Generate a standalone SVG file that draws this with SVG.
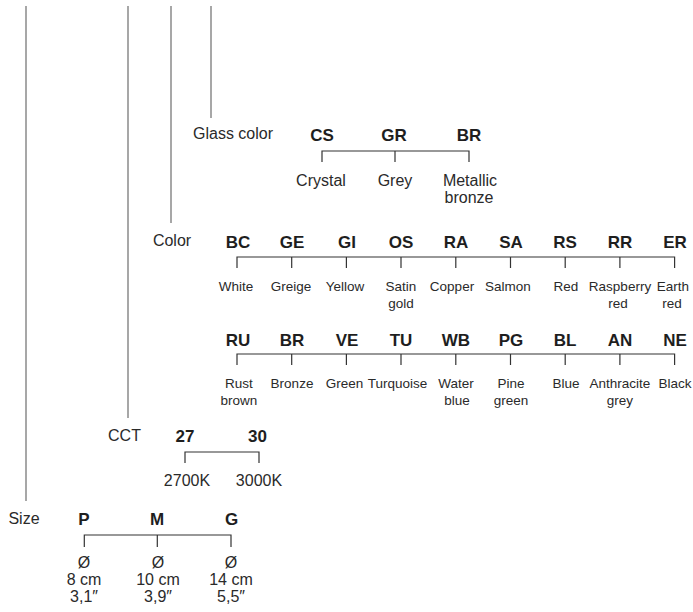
<svg xmlns="http://www.w3.org/2000/svg" width="693" height="612" viewBox="0 0 693 612">
<style>
text{font-family:"Liberation Sans",Arial,sans-serif;fill:#2a2a2a;text-anchor:middle}
.h{font-size:16px}
.c{font-size:17px;font-weight:bold;fill:#1e1e1e}
.l{font-size:16px}
.s{font-size:13.5px}
.lead{stroke:#8a8a8a;stroke-width:1.5;fill:none}
.br{stroke:#333;stroke-width:1.2;fill:none}
</style>
<rect width="693" height="612" fill="#fff"/>
<g id="connectors">
<line class="lead" x1="26" y1="6" x2="26" y2="501"/>
<line class="lead" x1="128" y1="6" x2="128" y2="418"/>
<line class="lead" x1="171" y1="6" x2="171" y2="223"/>
<line class="lead" x1="211" y1="6" x2="211" y2="118"/>
<path class="br" d="M322 162V151H469V162M395 151V162"/>
<path class="br" d="M237 268V257H674.6V268M291.7 257V268M346.4 257V268M401 257V268M455.8 257V268M510.5 257V268M565.2 257V268M619.9 257V268"/>
<path class="br" d="M237 365V354H674.6V365M291.7 354V365M346.4 354V365M401 354V365M455.8 354V365M510.5 354V365M565.2 354V365M619.9 354V365"/>
<path class="br" d="M185 463V452H259V463"/>
<path class="br" d="M84.3 547V535H231V547M157.3 535V547"/>
</g>
<g id="glass">
<text class="h" x="233" y="139">Glass color</text>
<text class="c" x="322" y="141">CS</text>
<text class="c" x="394" y="141">GR</text>
<text class="c" x="469" y="141">BR</text>
<text class="l" x="321" y="186">Crystal</text>
<text class="l" x="395" y="186">Grey</text>
<text class="l" x="470" y="186">Metallic</text>
<text class="l" x="469" y="203">bronze</text>
</g>
<g id="color">
<text class="h" x="172" y="246">Color</text>
<text class="c" x="238" y="248">BC</text>
<text class="c" x="292" y="248">GE</text>
<text class="c" x="347" y="248">GI</text>
<text class="c" x="401" y="248">OS</text>
<text class="c" x="456" y="248">RA</text>
<text class="c" x="511" y="248">SA</text>
<text class="c" x="565" y="248">RS</text>
<text class="c" x="620" y="248">RR</text>
<text class="c" x="675" y="248">ER</text>
<text class="s" x="236" y="291">White</text>
<text class="s" x="291" y="291">Greige</text>
<text class="s" x="345" y="291">Yellow</text>
<text class="s" x="401" y="291">Satin</text>
<text class="s" x="401" y="308">gold</text>
<text class="s" x="452" y="291">Copper</text>
<text class="s" x="508" y="291">Salmon</text>
<text class="s" x="566" y="291">Red</text>
<text class="s" x="620" y="291">Raspberry</text>
<text class="s" x="618" y="308">red</text>
<text class="s" x="673" y="291">Earth</text>
<text class="s" x="672" y="308">red</text>
<text class="c" x="238" y="346">RU</text>
<text class="c" x="292" y="346">BR</text>
<text class="c" x="347" y="346">VE</text>
<text class="c" x="401" y="346">TU</text>
<text class="c" x="456" y="346">WB</text>
<text class="c" x="511" y="346">PG</text>
<text class="c" x="565" y="346">BL</text>
<text class="c" x="620" y="346">AN</text>
<text class="c" x="675" y="346">NE</text>
<text class="s" x="239" y="388">Rust</text>
<text class="s" x="239" y="405">brown</text>
<text class="s" x="292" y="388">Bronze</text>
<text class="s" x="344.5" y="388">Green</text>
<text class="s" x="397.5" y="388">Turquoise</text>
<text class="s" x="456" y="388">Water</text>
<text class="s" x="457" y="405">blue</text>
<text class="s" x="511" y="388">Pine</text>
<text class="s" x="511" y="405">green</text>
<text class="s" x="566" y="388">Blue</text>
<text class="s" x="620" y="388">Anthracite</text>
<text class="s" x="620" y="405">grey</text>
<text class="s" x="675" y="388">Black</text>
</g>
<g id="cct">
<text class="h" x="124.5" y="441">CCT</text>
<text class="c" x="185" y="442">27</text>
<text class="c" x="257.5" y="442">30</text>
<text class="l" x="187" y="486">2700K</text>
<text class="l" x="259" y="486">3000K</text>
</g>
<g id="size">
<text class="h" x="24" y="524">Size</text>
<text class="c" x="84" y="525">P</text>
<text class="c" x="157" y="525">M</text>
<text class="c" x="231.5" y="525">G</text>
<text class="l" x="84" y="568">Ø</text>
<text class="l" x="84" y="585">8 cm</text>
<text class="l" x="84" y="602">3,1″</text>
<text class="l" x="158" y="568">Ø</text>
<text class="l" x="158" y="585">10 cm</text>
<text class="l" x="158" y="602">3,9″</text>
<text class="l" x="231" y="568">Ø</text>
<text class="l" x="231" y="585">14 cm</text>
<text class="l" x="231" y="602">5,5″</text>
</g>
</svg>
